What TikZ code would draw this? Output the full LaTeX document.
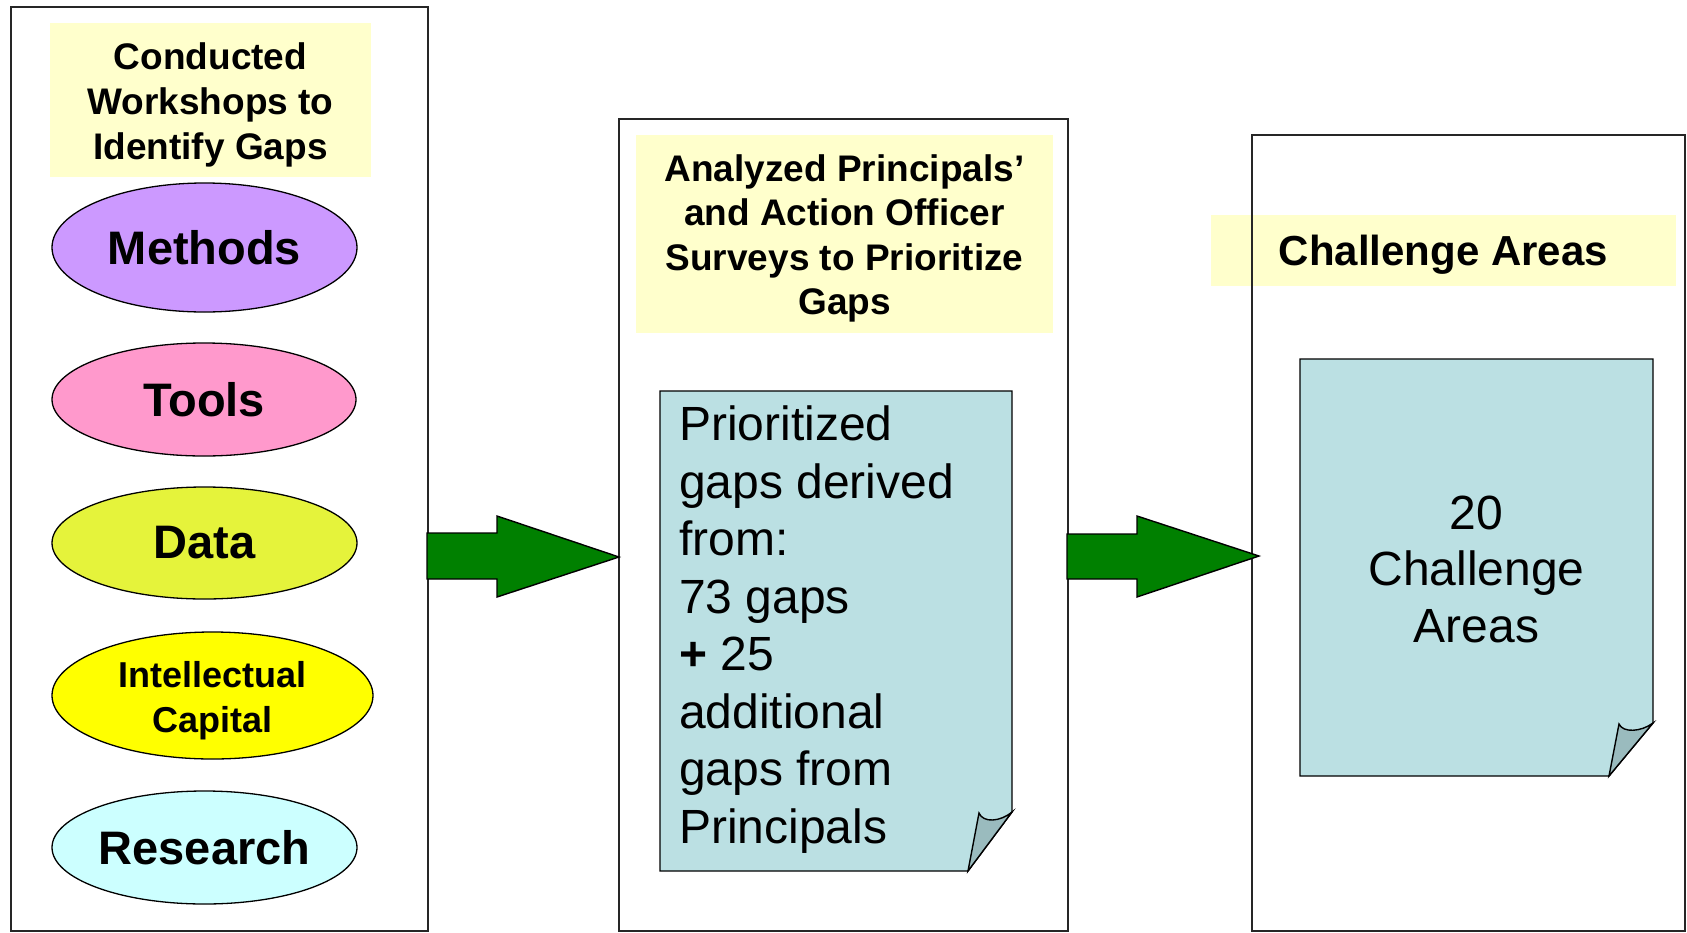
\documentclass[tikz,border=0pt]{standalone}
\usepackage{fontspec}
\setmainfont{Liberation Sans}
\usetikzlibrary{shapes.geometric}
\definecolor{labelyellow}{HTML}{FFFFCC}
\definecolor{methodsc}{HTML}{CC99FF}
\definecolor{toolsc}{HTML}{FF99CC}
\definecolor{datac}{HTML}{E5F33B}
\definecolor{icc}{HTML}{FFFF00}
\definecolor{researchc}{HTML}{CCFFFF}
\definecolor{docc}{HTML}{BBE0E3}
\definecolor{foldc}{HTML}{9ABBBE}
\definecolor{arrowc}{HTML}{008000}
\begin{document}
\begin{tikzpicture}[x=1pt,y=-1pt,
  lblbox/.style={fill=labelyellow, draw=none, inner sep=0pt},
  lbltext/.style={inner sep=0pt, align=center},
  panel/.style={draw=black!85, line width=1.6pt, inner sep=0pt},
  oval/.style={ellipse, draw=black, line width=1.3pt, inner sep=0pt, font=\fontsize{47}{50}\selectfont\bfseries},
  docshape/.style={fill=docc, draw=black, line width=1.4pt, line join=miter},
  flap/.style={fill=foldc, draw=black, line width=1.4pt, line join=miter},
  doctext/.style={inner sep=0pt, font=\fontsize{48}{57.5}\selectfont},
  blockarrow/.style={fill=arrowc, draw=black, line width=1.4pt, line join=miter}]
\useasboundingbox (0,0) rectangle (1687,932);

% yellow labels
\node[lblbox, minimum width=321pt, minimum height=154pt] (lab1) at (210.5,100) {};
\node[lbltext, font=\fontsize{37}{45}\selectfont\bfseries] (lab1t) at (210.5,105) {Conducted\\Workshops to\\Identify Gaps};
\node[lblbox, minimum width=417pt, minimum height=198pt] (lab2) at (844.5,234) {};
\node[lbltext, font=\fontsize{37}{44.5}\selectfont\bfseries] (lab2t) at (844.5,238.5) {Analyzed Principals’\\and Action Officer\\Surveys to Prioritize\\Gaps};
\node[lblbox, minimum width=465pt, minimum height=71pt] (lab3) at (1443.5,250.5) {};
\node[lbltext, font=\fontsize{42}{48}\selectfont\bfseries] (lab3t) at (1443.5,254.5) {Challenge Areas};

% panels
\node[panel, minimum width=417pt, minimum height=924pt] (p1) at (219.5,469) {};
\node[panel, minimum width=449pt, minimum height=812pt] (p2) at (843.5,525) {};
\node[panel, minimum width=433pt, minimum height=796pt] (p3) at (1468.5,533) {};

% ovals
\node[oval, fill=methodsc, minimum width=305pt, minimum height=129pt] (methods) at (204.5,247.5) {Methods};
\node[oval, fill=toolsc, minimum width=304pt, minimum height=113pt] (tools) at (204,399.5) {Tools};
\node[oval, fill=datac, minimum width=305pt, minimum height=112pt] (data) at (204.5,543) {Data};
\node[oval, fill=icc, minimum width=321pt, minimum height=127pt] (ic) at (212.5,695.5) {};
\node[lbltext, font=\fontsize{36}{45}\selectfont\bfseries] (ict) at (212.5,700.5) {Intellectual\\Capital};
\node[oval, fill=researchc, minimum width=305pt, minimum height=113pt] (research) at (204.5,847.5) {Research};

% documents
\draw[docshape] (660,391) -- (1012,391) -- (1012,812) -- (968,871) -- (660,871) -- cycle;
\draw[flap] (968,871) -- (979,813) .. controls (983,823) and (1000,822) .. (1012,812) -- cycle;
\node[doctext, anchor=north west, align=left] (t1) at (679,406) {Prioritized\\gaps derived\\from:\\73 gaps\\\textbf{+} 25\\additional\\gaps from\\Principals};

\draw[docshape] (1300,359) -- (1653,359) -- (1653,723) -- (1609,776) -- (1300,776) -- cycle;
\draw[flap] (1609,776) -- (1619,724) .. controls (1623,733) and (1641,732) .. (1653,723) -- cycle;
\node[doctext, align=center, font=\fontsize{48}{56.5}\selectfont] (t2) at (1476.5,569) {20\\Challenge\\Areas};

% block arrows
\draw[blockarrow] (427,533) -- (497,533) -- (497,516) -- (619,557) -- (497,597) -- (497,579) -- (427,579) -- cycle;
\draw[blockarrow] (1067,534) -- (1137,534) -- (1137,516) -- (1259,556) -- (1137,597) -- (1137,579) -- (1067,579) -- cycle;
\end{tikzpicture}
\end{document}
